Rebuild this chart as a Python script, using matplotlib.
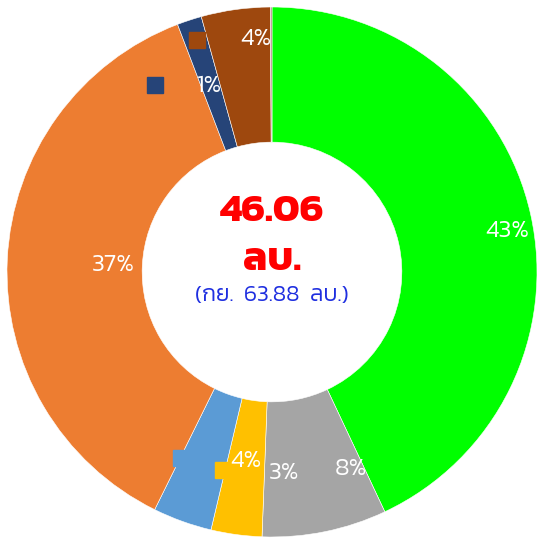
import matplotlib
matplotlib.use("Agg")
import matplotlib.pyplot as plt
import numpy as np

# slice data, clockwise from 12 o'clock
categories = ['green', 'gray', 'yellow', 'blue', 'orange', 'navy', 'brown', 'other']
shares = [43.0, 7.6, 3.1, 3.6, 36.9, 1.5, 4.2, 0.1]
labels = ['43%', '8%', '3%', '4%', '37%', '1%', '4%', '']
colors = ['#00FF00', '#A5A5A5', '#FFC000', '#5B9BD5', '#ED7D31', '#264478', '#9E480E', '#B08080']

total_text = '46.06'
unit_text = 'ลบ.'
prev_text = '(กย.  63.88  ลบ.)'

# where the data labels sit (angle in degrees, radius as fraction of outer radius)
label_pos = [(10, 0.90), (-68, 0.80), (-86.5, 0.76), (-98, 0.72),
             (177.5, 0.60), (108.5, 0.74), (94, 0.88), (0, 0)]
# legend key squares next to some labels
key_pos = {'yellow': (-104, 0.77), 'blue': (-116, 0.78), 'navy': (122, 0.83), 'brown': (108, 0.92)}

plt.rcParams['font.family'] = ['Kanit', 'DejaVu Sans']

fig = plt.figure(figsize=(5.38, 5.41), dpi=100)
R = 265
cx, cy = 272, 541 - 272
ax = fig.add_axes([(cx - R) / 538, (cy - R) / 541, 2 * R / 538, 2 * R / 541])

ax.pie(shares, colors=colors, startangle=90, counterclock=False, radius=1,
       wedgeprops=dict(width=0.51, edgecolor='white', linewidth=0.4))
ax.set_xlim(-1, 1)
ax.set_ylim(-1, 1)
ax.set_aspect('equal')
ax.axis('off')

for name, (ang, r) in key_pos.items():
    a = np.deg2rad(ang)
    ax.plot(r * np.cos(a), r * np.sin(a), marker='s', markersize=11,
            color=colors[categories.index(name)], linestyle='none')

for lab, (ang, r) in zip(labels, label_pos):
    if not lab:
        continue
    a = np.deg2rad(ang)
    ax.text(r * np.cos(a), r * np.sin(a), lab, color='white', fontsize=18,
            fontweight=300, ha='center', va='center')

ax.text(0, 0.225, total_text, color='#FF0000', fontsize=29, fontweight='bold',
        ha='center', va='center')
ax.text(0, 0.04, unit_text, color='#FF0000', fontsize=29, fontweight='bold',
        ha='center', va='center')
ax.text(0, -0.09, prev_text, color='#1F2FE0', fontsize=16.5, fontweight=300,
        ha='center', va='center')

fig.savefig('out.png')
